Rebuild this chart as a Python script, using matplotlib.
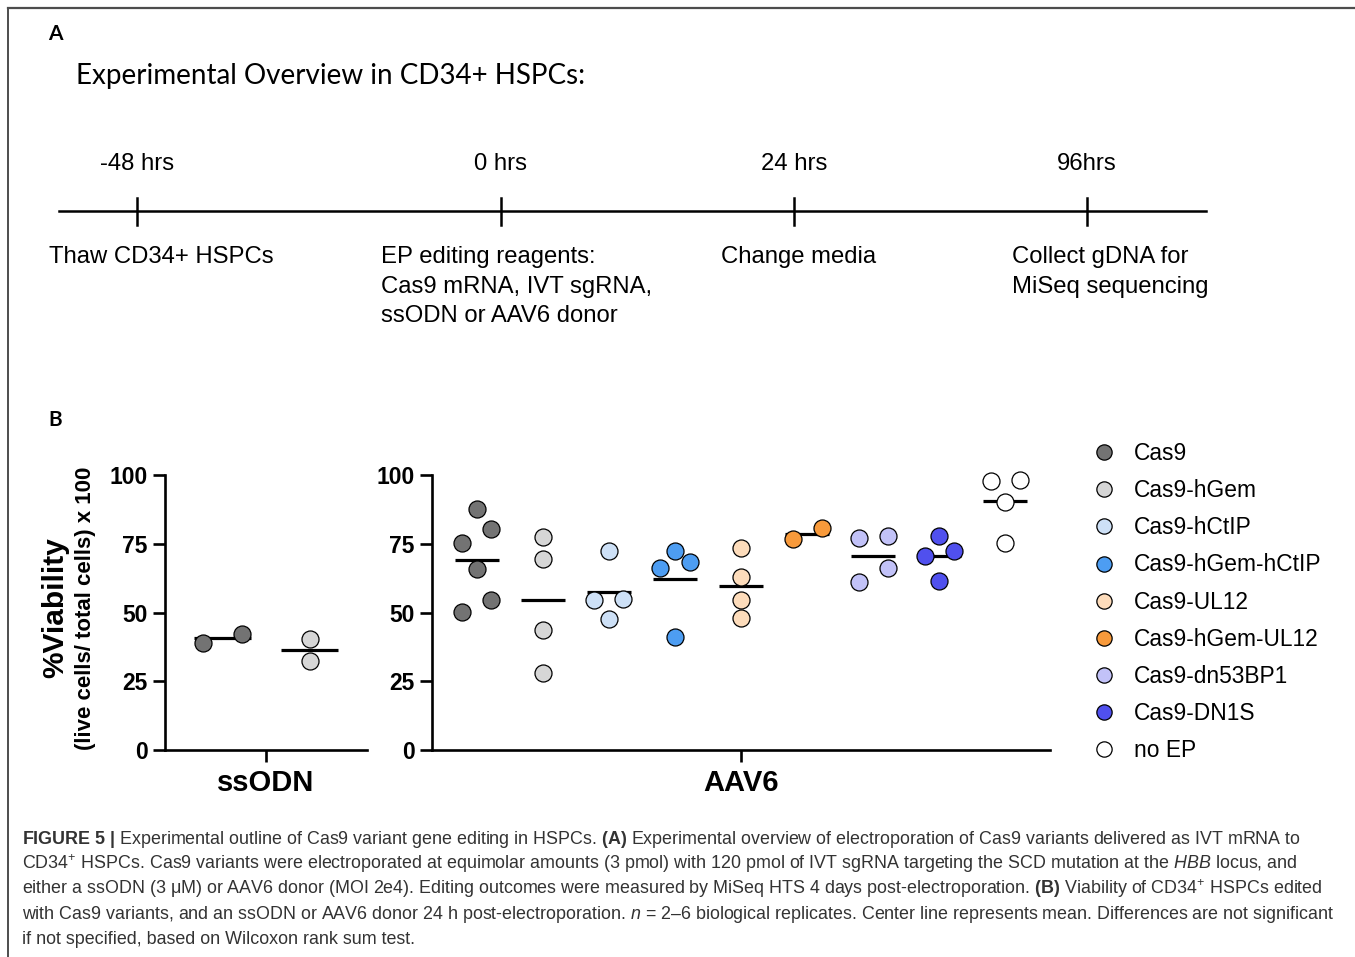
import matplotlib.pyplot as plt
from matplotlib.lines import Line2D
import numpy as np

plt.rcParams['font.family'] = ['Liberation Sans', 'DejaVu Sans']
plt.rcParams['mathtext.fontset'] = 'custom'
plt.rcParams['mathtext.rm'] = 'Liberation Sans'
plt.rcParams['mathtext.it'] = 'Liberation Sans:italic'
plt.rcParams['mathtext.bf'] = 'Liberation Sans:bold'

W, H = 1355, 957

# ---- data ----
groups = ['Cas9', 'Cas9-hGem', 'Cas9-hCtIP', 'Cas9-hGem-hCtIP', 'Cas9-UL12',
          'Cas9-hGem-UL12', 'Cas9-dn53BP1', 'Cas9-DN1S', 'no EP']
colors = ['#737373', '#d6d6d6', '#cde0f6', '#4d9df2', '#fddcbb',
          '#f89a3b', '#c2c2f8', '#5050ee', '#ffffff']

ssodn_values = [[38.9, 42.2],
                [40.4, 32.4]]

aav6_values = [[87.6, 80.4, 75.3, 65.8, 54.5, 50.2],
               [77.5, 69.5, 43.6, 28.0],
               [72.4, 54.9, 54.5, 47.6],
               [68.4, 72.4, 66.2, 41.1],
               [73.5, 63.0, 54.5, 48.0],
               [76.7, 80.7],
               [77.0, 77.8, 66.2, 61.1],
               [72.4, 77.8, 70.5, 61.5],
               [97.8, 98.2, 90.2, 75.3]]

yticks = [0, 25, 50, 75, 100]

timeline_times = ['-48 hrs', '0 hrs', '24 hrs', '96hrs']
timeline_steps = ['Thaw CD34+ HSPCs',
                  'EP editing reagents:\nCas9 mRNA, IVT sgRNA,\nssODN or AAV6 donor',
                  'Change media',
                  'Collect gDNA for\nMiSeq sequencing']

caption = [
    r'$\mathbf{FIGURE\ 5\ |}$ Experimental outline of Cas9 variant gene editing in HSPCs. '
    r'$\mathbf{(A)}$ Experimental overview of electroporation of Cas9 variants delivered as IVT mRNA to',
    r'CD34$^{+}$ HSPCs. Cas9 variants were electroporated at equimolar amounts (3 pmol) with 120 pmol '
    r'of IVT sgRNA targeting the SCD mutation at the $\mathit{HBB}$ locus, and',
    r'either a ssODN (3 μM) or AAV6 donor (MOI 2e4). Editing outcomes were measured by MiSeq HTS 4 days '
    r'post-electroporation. $\mathbf{(B)}$ Viability of CD34$^{+}$ HSPCs edited',
    r'with Cas9 variants, and an ssODN or AAV6 donor 24 h post-electroporation. $\mathit{n}$ = 2–6 '
    r'biological replicates. Center line represents mean. Differences are not significant',
    r'if not specified, based on Wilcoxon rank sum test.',
]


def swarm(vals, thresh=6.0, dx=0.22):
    vals = np.asarray(vals)
    order = np.argsort(vals)
    offs = np.zeros(len(vals))
    i = 0
    while i < len(order):
        grp = [order[i]]
        j = i + 1
        while j < len(order) and vals[order[j]] - vals[order[i]] <= thresh:
            grp.append(order[j])
            j += 1
        if len(grp) > 1:
            offs[grp] = np.linspace(-dx, dx, len(grp))
        i = j
    return offs


fig = plt.figure(figsize=(W / 100, H / 100), dpi=100)

# ---- panel A: overlay in pixel coords ----
ax0 = fig.add_axes([0, 0, 1, 1])
ax0.set_xlim(0, W)
ax0.set_ylim(H, 0)
ax0.axis('off')

ax0.plot([8, W], [8, 8], color='#4d4d4d', lw=1.6)
ax0.plot([8, 8], [8, H], color='#4d4d4d', lw=1.4)

ax0.text(48, 34, 'A', fontsize=15, fontweight='bold', family='Lato', va='center')
ax0.text(48, 420, 'B', fontsize=15, fontweight='bold', family='Lato', va='center')
ax0.text(76, 76, 'Experimental Overview in CD34+ HSPCs:', fontsize=20, family='Lato',
         va='center')

tick_x = [137, 501, 794, 1087]
step_x = [49, 381, 721, 1012]
ax0.plot([59, 1206], [211, 211], color='black', lw=1.8)
for tx, sx, t, s in zip(tick_x, step_x, timeline_times, timeline_steps):
    ax0.plot([tx, tx], [198, 225], color='black', lw=1.8)
    ax0.text(tx, 164, t, fontsize=17.2, ha='center', va='center')
    ax0.text(sx, 246, s, fontsize=17.2, ha='left', va='top', linespacing=1.45)

# ---- panel B ----
def style_axis(ax):
    for side in ['top', 'right']:
        ax.spines[side].set_visible(False)
    for side in ['left', 'bottom']:
        ax.spines[side].set_linewidth(1.9)
    ax.set_ylim(0, 100)
    ax.set_yticks(yticks)
    ax.tick_params(axis='both', width=1.9, length=8.5, labelsize=16.5, pad=4)
    for lab in ax.get_yticklabels():
        lab.set_fontweight('bold')
    ax.patch.set_alpha(0)


def draw_groups(ax, values, cols):
    for i, (vals, c) in enumerate(zip(values, cols)):
        xs = i + swarm(vals)
        ax.hlines(np.mean(vals), i - 0.33, i + 0.33, color='black', lw=2.3, zorder=2)
        ax.scatter(xs, vals, s=150, color=c, edgecolor='black', linewidth=0.9, zorder=3,
                   clip_on=False)


ax1 = fig.add_axes([165 / W, 1 - 750 / H, 202 / W, 275 / H])
draw_groups(ax1, ssodn_values, colors[:2])
ax1.set_xlim(-0.66, 1.66)
ax1.set_xticks([0.5])
ax1.set_xticklabels([''])
style_axis(ax1)

ax2 = fig.add_axes([432 / W, 1 - 750 / H, 618 / W, 275 / H])
draw_groups(ax2, aav6_values, colors)
ax2.set_xlim(-0.68, 8.68)
ax2.set_xticks([4])
ax2.set_xticklabels([''])
style_axis(ax2)

ax0.text(266, 783, 'ssODN', fontsize=21, fontweight='bold', ha='center', va='center')
ax0.text(741, 783, 'AAV6', fontsize=21, fontweight='bold', ha='center', va='center')
ax0.text(55, 608, '%Viability', fontsize=21.5, fontweight='bold', rotation=90,
         ha='center', va='center')
ax0.text(86, 608, '(live cells/ total cells) x 100', fontsize=16, fontweight='bold',
         rotation=90, ha='center', va='center')

handles = [Line2D([], [], marker='o', ls='', markersize=11, markerfacecolor=c,
                  markeredgecolor='black', markeredgewidth=0.9) for c in colors]
fig.legend(handles, groups, loc='upper left', bbox_to_anchor=(1083 / W, 1 - 433 / H),
           frameon=False, fontsize=16.4, handlelength=1.0, handletextpad=0.85,
           labelspacing=0.62, borderaxespad=0)

# ---- caption, sized so the first line ends where the reference does ----
renderer = fig.canvas.get_renderer()
cap_size = 12.0
probe = ax0.text(22, 844, caption[0], fontsize=cap_size)
width = probe.get_window_extent(renderer=renderer).width
probe.remove()
cap_size = cap_size * 1280 / width
for k, line in enumerate(caption):
    ax0.text(22, 844 + 25 * k, line, fontsize=cap_size, ha='left', va='baseline',
             color='#333333')

fig.savefig('out.png', dpi=100)
